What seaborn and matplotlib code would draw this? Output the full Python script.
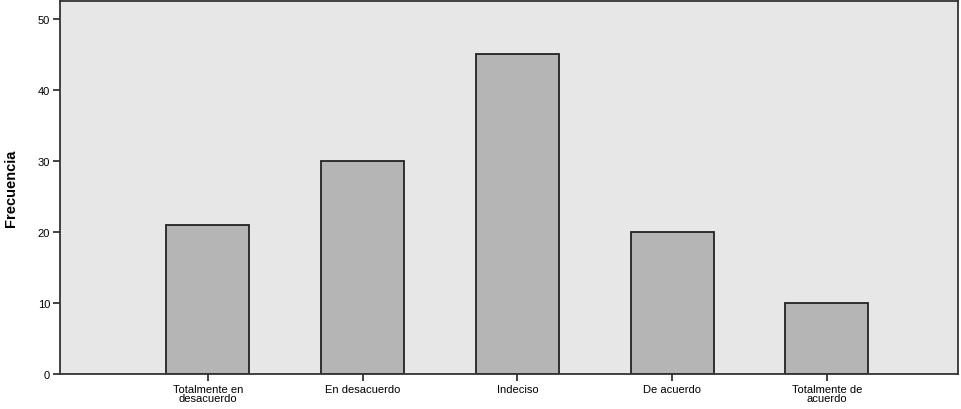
import pandas as pd
import matplotlib
matplotlib.use('Agg')
import matplotlib.pyplot as plt
import seaborn as sns

# datos
categorias = ['Totalmente en\ndesacuerdo', 'En desacuerdo', 'Indeciso', 'De acuerdo', 'Totalmente de\nacuerdo']
frecuencias = [21, 30, 45, 20, 10]
ticks_y = [0, 10, 20, 30, 40, 50]

df = pd.DataFrame({'respuesta': categorias, 'frecuencia': frecuencias})

sns.set_style('white')
plt.rcParams['font.family'] = ['Liberation Sans', 'DejaVu Sans']

fig = plt.figure(figsize=(9.61, 4.10), dpi=100)
ax = fig.add_axes([0.0624, 0.0854, 0.9345, 0.9096])
ax.set_facecolor('#e7e7e7')

sns.barplot(x='respuesta', y='frecuencia', data=df, ax=ax, color='#b5b5b5',
            saturation=1, width=0.536, edgecolor='#222222', linewidth=1.3)

ax.set_xlim(-0.956, 4.847)
ax.set_ylim(0, 52.5)
ax.set_yticks(ticks_y)
ax.set_xlabel('')
ax.set_ylabel('Frecuencia', fontsize=10.5, fontweight='bold', labelpad=14, color='black')

for s in ax.spines.values():
    s.set_color('#333333')
    s.set_linewidth(1.3)

ax.tick_params(axis='both', direction='out', length=5, width=1.2, color='#222222',
               labelsize=8, labelcolor='black', pad=2, left=True, bottom=True)
for lab in ax.get_xticklabels():
    lab.set_linespacing(0.9)

fig.savefig('out.png', dpi=100, facecolor='white')
